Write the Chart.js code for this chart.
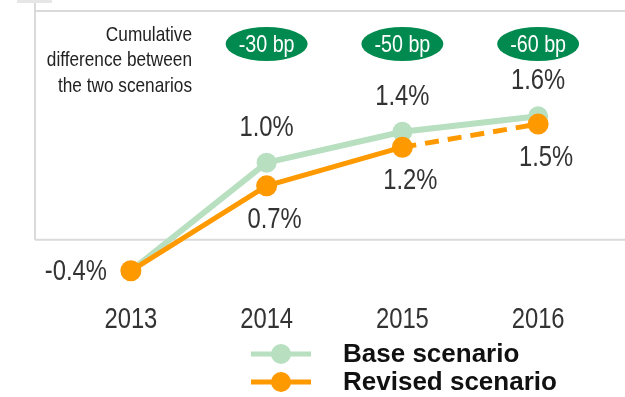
<!DOCTYPE html>
<html lang="en">
<head>
<meta charset="UTF-8">
<title>Cumulative difference between scenarios</title>
<script src="https://cdn.jsdelivr.net/npm/chart.js"></script>
<style>
  html, body { margin: 0; padding: 0; background: #fff; }
  .wrap { width: 625px; height: 397px; }
</style>
</head>
<body>
<div class="wrap"><canvas id="scenarioChart" width="625" height="397"></canvas></div>
<script>
const years = ['2013', '2014', '2015', '2016'];
const baseScenario = [-0.4, 1.0, 1.4, 1.6];
const revisedScenario = [-0.4, 0.7, 1.2, 1.5];
const bpGap = [null, -30, -50, -60];
const noteLines = ['Cumulative', 'difference between', 'the two scenarios'];
const seriesNames = ['Base scenario', 'Revised scenario'];

const GREEN = '#b7dfc0';
const ORANGE = '#ff9900';
const PILL = '#008a4f';
const FRAME = '#dadada';
const SANS = "'Liberation Sans', Arial, sans-serif";
const SQUEEZE = 0.82; // narrow face look

// text squeezed horizontally around its anchor
function narrowText(ctx, text, x, y) {
  ctx.save();
  ctx.translate(x, y);
  ctx.scale(SQUEEZE, 1);
  ctx.fillText(text, 0, 0);
  ctx.restore();
}

// squeeze the x axis labels too (renderText rotates each label in place)
const narrowTicks = {
  id: 'narrowTicks',
  beforeDraw(chart) {
    const s = chart.scales.x;
    if (s._narrow) return;
    const draw = s.drawLabels.bind(s);
    s.drawLabels = function (area) {
      const ctx = this.ctx;
      const rotate = ctx.rotate;
      ctx.rotate = function (a) { rotate.call(this, a); this.scale(SQUEEZE, 1); };
      draw(area);
      ctx.rotate = rotate;
    };
    s._narrow = true;
  }
};

// frame, zero line, value labels, bp pills, note and legend
const decor = {
  id: 'decor',
  beforeDatasetsDraw(chart) {
    const { ctx, width } = chart;
    const zeroY = chart.scales.y.getPixelForValue(0);
    ctx.save();
    ctx.strokeStyle = FRAME;
    ctx.lineWidth = 2;
    ctx.beginPath();
    ctx.moveTo(35, 11); ctx.lineTo(width, 11);
    ctx.moveTo(35, 0); ctx.lineTo(35, zeroY);
    ctx.moveTo(35, zeroY); ctx.lineTo(width, zeroY);
    ctx.stroke();
    ctx.fillStyle = '#e6e6e6';
    ctx.fillRect(17, 0, 35, 3);
    ctx.restore();
  },
  afterDatasetsDraw(chart) {
    const { ctx } = chart;
    const x = chart.scales.x;
    const basePts = chart.getDatasetMeta(0).data;
    const revPts = chart.getDatasetMeta(1).data;
    const fmt = v => v.toFixed(1) + '%';
    ctx.save();

    // value labels
    ctx.font = '29px ' + SANS;
    ctx.fillStyle = '#333';
    ctx.textAlign = 'center';
    ctx.textBaseline = 'middle';
    baseScenario.forEach((v, i) => {
      if (i === 0) return;
      narrowText(ctx, fmt(v), basePts[i].x, basePts[i].y - 35);
    });
    revisedScenario.forEach((v, i) => {
      if (i === 0) {
        narrowText(ctx, fmt(v), revPts[i].x - 55, revPts[i].y + 1);
        return;
      }
      narrowText(ctx, fmt(v), revPts[i].x + 8, revPts[i].y + 34);
    });

    // bp pills
    bpGap.forEach((bp, i) => {
      if (bp === null) return;
      const cx = x.getPixelForValue(i);
      ctx.fillStyle = PILL;
      ctx.beginPath();
      ctx.ellipse(cx, 44, 41, 17, 0, 0, Math.PI * 2);
      ctx.fill();
      ctx.fillStyle = '#fff';
      ctx.font = '24px ' + SANS;
      narrowText(ctx, bp + ' bp', cx, 45);
    });

    // note
    ctx.fillStyle = '#222';
    ctx.font = '21px ' + SANS;
    ctx.textAlign = 'right';
    noteLines.forEach((t, i) => narrowText(ctx, t, 192, 35 + i * 25.5));

    // legend
    [[GREEN, 354], [ORANGE, 382]].forEach(([c, ly], i) => {
      ctx.strokeStyle = c;
      ctx.lineWidth = 5;
      ctx.beginPath();
      ctx.moveTo(251, ly); ctx.lineTo(311, ly);
      ctx.stroke();
      ctx.fillStyle = c;
      ctx.beginPath();
      ctx.arc(281, ly, 10, 0, Math.PI * 2);
      ctx.fill();
      ctx.fillStyle = '#111';
      ctx.font = 'bold 26px ' + SANS;
      ctx.textAlign = 'left';
      ctx.fillText(seriesNames[i], 343, ly + 1);
    });
    ctx.restore();
  }
};

new Chart(document.getElementById('scenarioChart'), {
  type: 'line',
  data: {
    labels: years,
    datasets: [
      {
        label: seriesNames[0],
        data: baseScenario,
        borderColor: GREEN,
        backgroundColor: GREEN,
        borderWidth: 6,
        pointRadius: 10,
        pointBorderWidth: 0,
        pointBackgroundColor: GREEN,
        order: 2
      },
      {
        label: seriesNames[1],
        data: revisedScenario,
        borderColor: ORANGE,
        backgroundColor: ORANGE,
        borderWidth: 5,
        pointRadius: 10.5,
        pointBorderWidth: 0,
        pointBackgroundColor: ORANGE,
        segment: {
          borderDash: ctx => ctx.p0DataIndex === 2 ? [14, 9] : undefined
        },
        order: 1
      }
    ]
  },
  options: {
    responsive: false,
    animation: false,
    layout: { padding: { left: 63, right: 19, top: 70, bottom: 44 } },
    plugins: {
      legend: { display: false },
      tooltip: { enabled: false }
    },
    scales: {
      x: {
        offset: true,
        grid: { display: false, drawTicks: false },
        border: { display: false },
        ticks: { font: { size: 29, family: SANS }, color: '#333', padding: 16 }
      },
      y: {
        display: false,
        min: -0.6,
        max: 2.2
      }
    }
  },
  plugins: [narrowTicks, decor]
});
</script>
</body>
</html>
